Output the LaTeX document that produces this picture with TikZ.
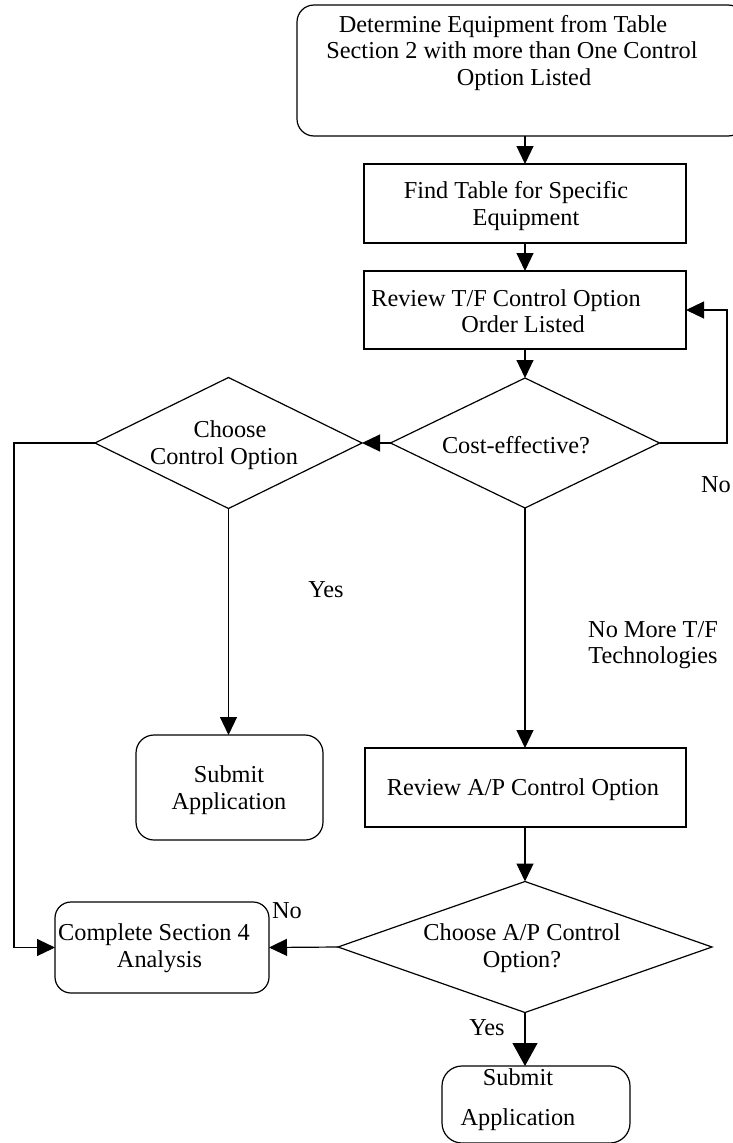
\documentclass[tikz,border=0pt]{standalone}
\usepackage{fontspec}
\setmainfont{Liberation Serif}
\usetikzlibrary{arrows.meta,shapes.geometric}
\begin{document}
\begin{tikzpicture}[x=1pt,y=-1pt,
  every node/.style={inner sep=0pt, outer sep=0pt},
  txt/.style={font=\fontsize{24.3}{26.5}\selectfont, align=center},
  box/.style={draw, line width=1.2pt, rectangle},
  rbox/.style={box, rounded corners=17pt},
  dec/.style={draw, line width=1.2pt, diamond},
  arr/.style={line width=1.2pt, -{Triangle[length=18pt,width=17pt]}},
  bigarr/.style={line width=1.2pt, -{Triangle[length=23pt,width=25pt]}}]
\clip (0,0) rectangle (733,1143);
\fill[white] (0,0) rectangle (733,1143);

% shapes
\node[rbox, minimum width=448pt, minimum height=131pt] (top) at (521,70.5) {};
\node[box, minimum width=322pt, minimum height=79pt] (find) at (525,203.5) {};
\node[box, minimum width=322pt, minimum height=78pt] (revtf) at (525,310) {};
\node[dec, minimum width=269pt, minimum height=130pt] (cost) at (525,443) {};
\node[dec, minimum width=267pt, minimum height=131pt] (choose) at (228.5,443) {};
\node[rbox, rounded corners=18pt, minimum width=187pt, minimum height=105pt] (sub1) at (229.5,787.5) {};
\node[box, minimum width=321pt, minimum height=79pt] (revap) at (525.5,787.5) {};
\node[dec, minimum width=374pt, minimum height=131pt] (chap) at (525,947) {};
\node[rbox, rounded corners=16pt, minimum width=214pt, minimum height=91pt] (comp) at (162,947.5) {};
\node[rbox, rounded corners=20pt, minimum width=188pt, minimum height=77pt] (sub2) at (536,1104.5) {};

% texts
\node[txt] (top-t) at (512,53) {Determine Equipment from Table\hspace*{18pt}\\Section 2 with more than One Control\\\hspace*{24pt}Option Listed};
\node[txt] (find-t) at (521,206) {Find Table for Specific\hspace*{10pt}\\\hspace*{10pt}Equipment};
\node[txt] (revtf-t) at (514.5,311) {Review T/F Control Option\hspace*{17pt}\\\hspace*{17pt}Order Listed};
\node[txt] (cost-t) at (516,445) {Cost-effective?};
\node[txt] (choose-t) at (227,445) {\hspace*{6pt}Choose\\Control Option\hspace*{6pt}};
\node[txt] (revap-t) at (523,790) {Review A/P Control Option};
\node[txt] (sub1-t) at (229,790) {Submit\\Application};
\node[txt] (comp-t) at (157,948) {Complete Section 4\hspace*{6pt}\\\hspace*{5pt}Analysis};
\node[txt] (chap-t) at (522,948) {Choose A/P Control\\Option?};
\node[txt] (sub2-t) at (518,1100) {Submit\\[13.5pt]Application};

% labels
\node[txt] (yes1) at (326,590) {Yes};
\node[txt, anchor=west] (no1) at (701,485) {No};
\node[txt] (nomore) at (653,645) {No More T/F\\Technologies};
\node[txt, anchor=west] (no2) at (272,911) {No};
\node[txt] (yes2) at (487,1028) {Yes};

% connectors
\draw[arr] (top.south -| find.north) -- (find.north);
\draw[arr] (find.south) -- (revtf.north);
\draw[arr] (revtf.south) -- (cost.north);
\draw[arr] (cost.west) -- (choose.east);
\draw[arr] (cost.east) -- ++(67.5,0) |- (revtf.east);
\draw[arr] (choose.south) -- (choose.south |- sub1.north);
\coordinate (lft) at (14,443);
\draw[arr] (choose.west) -- (lft) |- (comp.west);
\draw[arr] (cost.south) -- (cost.south |- revap.north);
\draw[arr] (revap.south -| chap.north) -- (chap.north);
\draw[arr] (chap.west) -- (comp.east);
\draw[bigarr] (chap.south) -- (chap.south |- sub2.north);
\end{tikzpicture}
\end{document}
